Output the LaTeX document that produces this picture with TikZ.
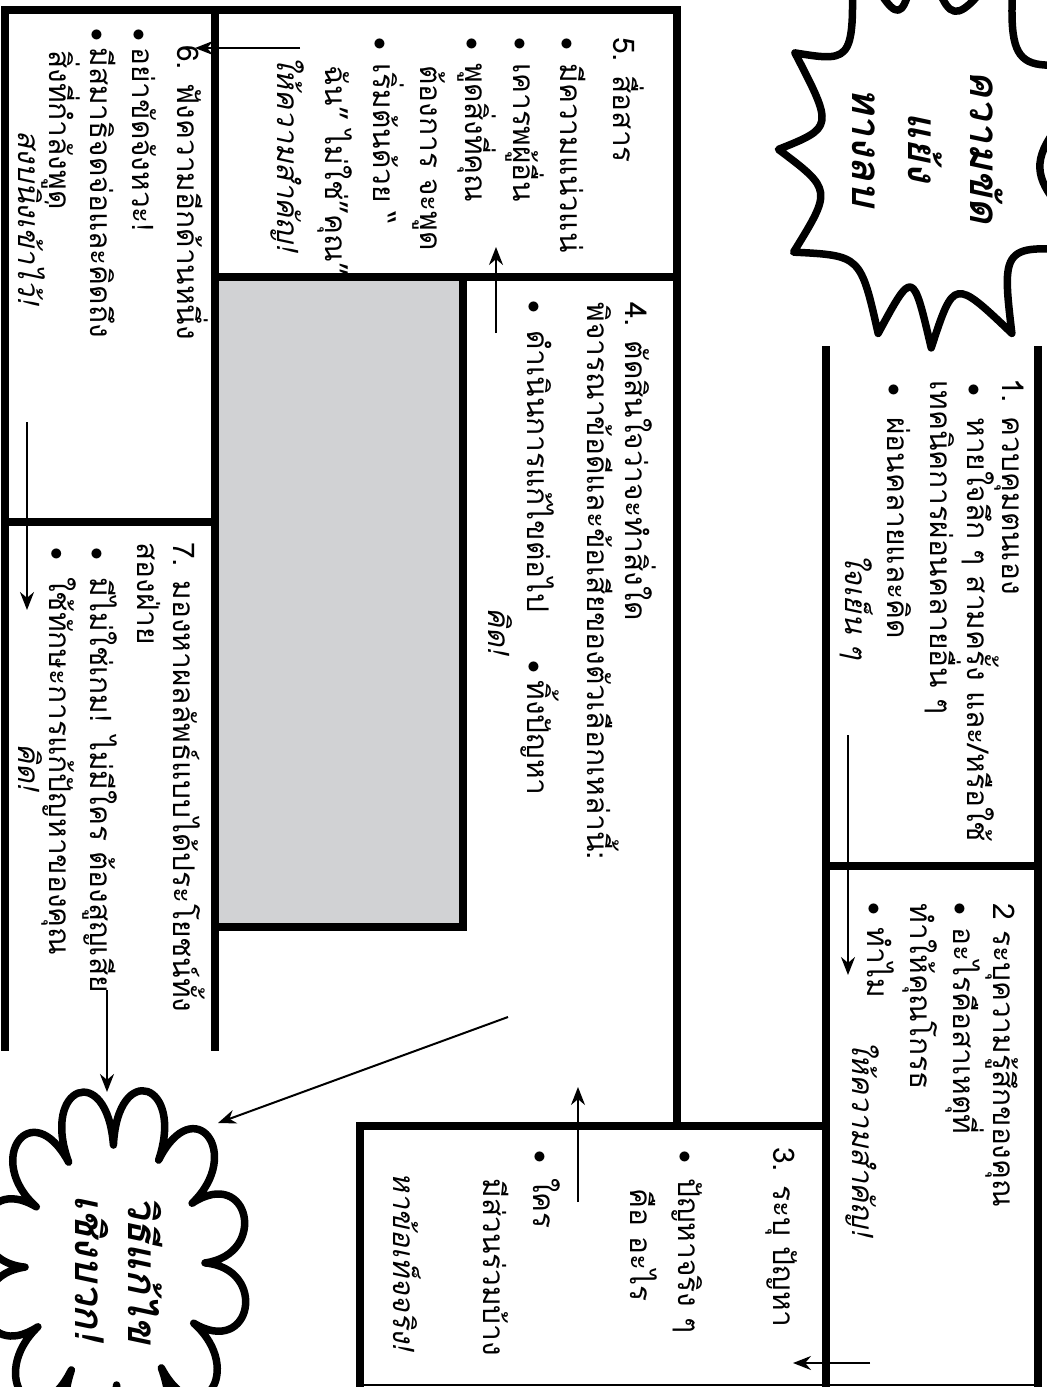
\documentclass[tikz,border=0pt]{standalone}
\usepackage{fontspec}
\usetikzlibrary{arrows.meta}
\newfontfamily\thaifont[Script=Thai]{Loma}
\definecolor{panelgray}{RGB}{209,210,212}
\newcommand\bul[1]{\makebox[#1][l]{\scalebox{0.85}{$\bullet$}}}

\begin{document}
\begin{tikzpicture}[
    x=0.02cm, y=-0.02cm,
    frame/.style={draw=black, line width=0.16cm, line cap=rect},
    rule/.style={draw=black, line width=0.03cm},
    burst/.style={draw=black, fill=white, line width=0.15cm, line join=round},
    ln/.style={rotate=-90, anchor=base west, inner sep=0pt,
        font=\thaifont\fontsize{17}{20}\selectfont},
    kw/.style={ln, font=\thaifont\fontsize{17}{20}\selectfont\itshape},
    hd/.style={rotate=-90, anchor=base, inner sep=0pt,
        font=\thaifont\fontsize{23}{28}\selectfont\bfseries\itshape},
    flow/.style={-{Stealth[length=0.36cm,width=0.28cm]}, line width=0.04cm},
]
\useasboundingbox (0,0) rectangle (1047,1387);
\clip (0,0) rectangle (1047,1387);

% ====== PANELS ======
\fill[panelgray] (215,277) rectangle (463,927);
\draw[frame] (5,10) -- (677,10);
\draw[frame] (5,10) -- (5,1047);
\draw[frame] (215,10) -- (215,1047);
\draw[frame] (677,10) -- (677,1126);
\draw[frame] (5,522) -- (215,522);
\draw[frame] (215,277) -- (677,277);
\draw[frame] (463,277) -- (463,927) -- (215,927);
\draw[frame] (360,1387) -- (360,1126) -- (826,1126);
\draw[frame] (826,350) -- (826,1387);
\draw[frame] (1038,350) -- (1038,1387);
\draw[frame] (826,866) -- (1038,866);
\draw[rule] (360,1385) -- (1038,1385);

% ====== BURST: top right ======
\begin{scope}[shift={(925,170)}]
    \draw[burst] (-138:175)
        .. controls (-123:128) .. (-108:240)
        .. controls (-99.5:137) .. (-91:240)
        .. controls (-79.5:137) .. (-68:240)
        .. controls (-49:125) .. (-30:230)
        .. controls (-2.5:90) .. (25:200)
        .. controls (43.5:105) .. (62:185)
        .. controls (75:112) .. (88:178)
        .. controls (97:100) .. (106:170)
        .. controls (127:107) .. (148:155)
        .. controls (168:95) .. (188:148)
        .. controls (205:101) .. (222:175) -- cycle;
\end{scope}
\node[hd] (t-l1) at (970,147) {ความขัด};
\node[hd] (t-l2) at (908,147) {แย้ง};
\node[hd] (t-l3) at (852,147) {ทางลบ};

% ====== BURST: bottom left ======
\begin{scope}[shift={(115,1265)}, xscale=0.75]
    \draw[burst] (-91:120) \foreach \a in {-61,-31,...,269} {
        .. controls (\a-28:205) and (\a-2:205) .. (\a:120) } -- cycle;
\end{scope}
\node[hd] (s-l1) at (128,1270) {วิธีแก้ไข};
\node[hd] (s-l2) at (75,1268) {เชิงบวก!};

% ====== 1 ======
\node[ln] (b1-t) at (1002,378) {1. ควบคุมตนเอง};
\node[ln] (b1-a) at (967,383) {\bul{0.68cm}หายใจลึก ๆ สามครั้ง และ/หรือใช้};
\node[ln] (b1-b) at (930,380) {เทคนิคการผ่อนคลายอื่น ๆ};
\node[ln] (b1-c) at (887,383) {\bul{0.68cm}ผ่อนคลายและคิด};
\node[kw] (b1-k) at (845,553) {ใจเย็น ๆ};

% ====== 2 ======
\node[ln] (b2-t) at (993,903) {2 ระบุความรู้สึกของคุณ};
\node[ln] (b2-a) at (953,902) {\bul{0.5cm}อะไรคือสาเหตุที่};
\node[ln] (b2-b) at (910,903) {ทำให้คุณโกรธ};
\node[ln] (b2-c) at (867,902) {\bul{0.5cm}ทำไม};
\node[kw] (b2-k) at (852,1040) {ให้ความสำคัญ!};

% ====== 3 ======
\node[ln] (b3-t) at (773,1147) {3. ระบุ ปัญหา};
\node[ln] (b3-a) at (678,1150) {\bul{0.56cm}ปัญหาจริง ๆ};
\node[ln] (b3-b) at (630,1188) {คือ อะไร};
\node[ln] (b3-c) at (533,1150) {\bul{0.56cm}ใคร};
\node[ln] (b3-d) at (483,1178) {มีส่วนร่วมบ้าง};
\node[kw] (b3-k) at (393,1172) {หาข้อเท็จจริง!};

% ====== 4 ======
\node[ln] (b4-t) at (625,302) {4. ตัดสินใจว่าจะทำสิ่งใด};
\node[ln] (b4-a) at (587,302) {พิจารณาข้อดีและข้อเสียของตัวเลือกเหล่านี้:};
\node[ln] (b4-b) at (527,300) {\bul{0.6cm}ดำเนินการแก้ไขต่อไป};
\node[ln] (b4-c) at (527,660) {\bul{0.4cm}ทิ้งปัญหา};
\node[kw] (b4-k) at (488,607) {คิด!};

% ====== 5 ======
\node[ln] (b5-t) at (613,37) {5. สื่อสาร};
\node[ln] (b5-a) at (560,37) {\bul{0.52cm}มีความแน่วแน่};
\node[ln] (b5-b) at (513,37) {\bul{0.52cm}เคารพผู้อื่น};
\node[ln] (b5-c) at (465,37) {\bul{0.52cm}พูดสิ่งที่คุณ};
\node[ln] (b5-d) at (420,65) {ต้องการ จะพูด};
\node[ln] (b5-e) at (373,37) {\bul{0.52cm}เริ่มต้นด้วย “};
\node[ln] (b5-f) at (325,65) {ฉัน” ไม่ใช่”คุณ”};
\node[kw] (b5-k) at (277,55) {ให้ความสำคัญ!};

% ====== 6 ======
\node[ln] (b6-t) at (177,45) {6. ฟังความอีกด้านหนึ่ง};
\node[ln] (b6-a) at (132,28) {\bul{0.38cm}อย่าขัดจังหวะ!};
\node[ln] (b6-b) at (90,28) {\bul{0.38cm}มีสมาธิจดจ่อและคิดถึง};
\node[ln] (b6-c) at (50,50) {สิ่งที่กำลังพูด};
\node[kw] (b6-k) at (18,130) {สงบนิ่งเข้าไว้!};

% ====== 7 ======
\node[ln] (b7-t) at (173,542) {7. มองหาผลลัพธ์แบบได้ประโยชน์ทั้ง};
\node[ln] (b7-a) at (137,542) {สองฝ่าย};
\node[ln] (b7-b) at (90,547) {\bul{0.6cm}มีไม่ใช่เกม! ไม่มีใคร ต้องสูญเสีย};
\node[ln] (b7-c) at (50,547) {\bul{0.6cm}ใช้ทักษะการแก้ปัญหาของคุณ};
\node[kw] (b7-k) at (18,743) {คิด!};

% ====== ARROWS ======
\coordinate (a1s) at (848,735);  \coordinate (a1e) at (848,975);
\coordinate (a2s) at (870,1363); \coordinate (a2e) at (793,1363);
\coordinate (a3s) at (578,1202); \coordinate (a3e) at (578,1087);
\coordinate (a4s) at (496,333);  \coordinate (a4e) at (496,247);
\coordinate (a5s) at (300,48);   \coordinate (a5e) at (195,48);
\coordinate (a6s) at (27,422);   \coordinate (a6e) at (27,610);
\coordinate (a7s) at (107,990);  \coordinate (a7e) at (107,1092);
\coordinate (a8s) at (508,1017); \coordinate (a8e) at (218,1123);
\foreach \s/\e in {a1s/a1e, a2s/a2e, a3s/a3e, a4s/a4e,
    a5s/a5e, a6s/a6e, a7s/a7e, a8s/a8e}
    \draw[flow] (\s) -- (\e);

\end{tikzpicture}
\end{document}
